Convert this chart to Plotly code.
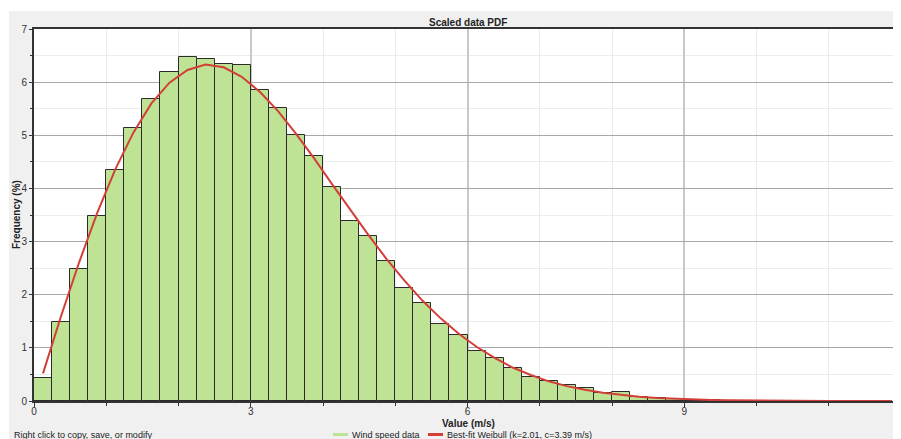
import plotly.graph_objects as go

# Histogram bins (m/s) – 0.25 m/s wide
bin_centers = [0.125 + 0.25 * i for i in range(38)]
freq_pct = [0.44, 1.48, 2.49, 3.48, 4.35, 5.14, 5.68, 6.20, 6.48, 6.44,
            6.34, 6.32, 5.86, 5.52, 5.01, 4.61, 4.02, 3.39, 3.11, 2.63,
            2.12, 1.84, 1.44, 1.24, 0.94, 0.81, 0.62, 0.45, 0.37, 0.30,
            0.25, 0.15, 0.17, 0.08, 0.05, 0.04, 0.02, 0.01]

# Best-fit Weibull curve
fit_x = [0.125, 0.375, 0.625, 0.875, 1.125, 1.375, 1.625, 1.875, 2.125, 2.375,
         2.625, 2.875, 3.125, 3.375, 3.625, 3.875, 4.125, 4.375, 4.625, 4.875,
         5.125, 5.375, 5.625, 5.875, 6.125, 6.375, 6.625, 6.875, 7.125, 7.375,
         7.625, 7.875, 8.125, 8.375, 8.625, 8.875, 9.125, 9.375, 9.625, 9.875,
         10.125, 10.5, 11.0, 11.5, 11.875]
fit_y = [0.52, 1.60, 2.61, 3.54, 4.36, 5.05, 5.60, 5.99, 6.23, 6.33,
         6.28, 6.10, 5.82, 5.46, 5.03, 4.57, 4.08, 3.60, 3.13, 2.68,
         2.27, 1.89, 1.56, 1.27, 1.02, 0.81, 0.63, 0.49, 0.37, 0.28,
         0.21, 0.155, 0.113, 0.081, 0.058, 0.041, 0.028, 0.019, 0.012, 0.008,
         0.005, 0.003, 0.001, 0.0, 0.0]

series_names = ["Wind speed data", "Best-fit Weibull (k=2.01, c=3.39 m/s)"]
x_ticks = [0, 3, 6, 9, 12]

GREEN = "#bee395"
RED = "#d23f38"
FONT = "Liberation Sans, Arial, sans-serif"

# the page body adds an 8px offset; everything below is in screen pixels
OFF = 8
W, H = 893, 431
PL, PT, PR, PB = 34, 29, 901, 401          # plot area in screen pixels
L, T = PL - OFF, PT - OFF
R = (OFF + W) - PR
B = (OFF + H) - PB
pw, ph = PR - PL, PB - PT


def px_x(p):
    return (p - PL) / pw


def px_y(p):
    return (PB - p) / ph


fig = go.Figure()
fig.add_trace(go.Bar(
    x=bin_centers, y=freq_pct, width=0.25,
    marker=dict(color=GREEN, line=dict(color="#2b2b2b", width=1)),
    showlegend=False, name=series_names[0],
))
fig.add_trace(go.Scatter(
    x=fit_x, y=fit_y, mode="lines",
    line=dict(color=RED, width=2), showlegend=False, name=series_names[1],
))

legend_y = px_y(434.5)
shapes = [
    # white strips around the grey frame
    dict(type="rect", xref="paper", yref="paper", layer="below",
         x0=px_x(0), x1=px_x(910), y0=px_y(11), y1=px_y(0),
         fillcolor="white", line=dict(width=0)),
    dict(type="rect", xref="paper", yref="paper", layer="below",
         x0=px_x(0), x1=px_x(9), y0=px_y(445), y1=px_y(0),
         fillcolor="white", line=dict(width=0)),
    # legend symbols
    dict(type="line", xref="paper", yref="paper", x0=px_x(333), x1=px_x(348),
         y0=legend_y, y1=legend_y, line=dict(color=GREEN, width=3)),
    dict(type="line", xref="paper", yref="paper", x0=px_x(428), x1=px_x(443),
         y0=legend_y, y1=legend_y, line=dict(color=RED, width=3)),
]

annotations = [
    dict(text="Right click to copy, save, or modify", xref="paper",
         yref="paper", x=px_x(12), y=legend_y, xanchor="left",
         yanchor="middle", showarrow=False, font=dict(size=9, color="#222")),
    dict(text=series_names[0], xref="paper", yref="paper", x=px_x(350),
         y=legend_y, xanchor="left", yanchor="middle", showarrow=False,
         font=dict(size=9, color="#222")),
    dict(text=series_names[1], xref="paper", yref="paper", x=px_x(445),
         y=legend_y, xanchor="left", yanchor="middle", showarrow=False,
         font=dict(size=9, color="#222")),
    dict(text="<b>Scaled data PDF</b>", xref="paper", yref="paper",
         x=px_x(468), y=px_y(22), xanchor="center", yanchor="middle",
         showarrow=False, font=dict(size=10, color="#222")),
    dict(text="<b>Value (m/s)</b>", xref="paper", yref="paper",
         x=px_x(468), y=px_y(423.5), xanchor="center", yanchor="middle",
         showarrow=False, font=dict(size=10, color="#222")),
    dict(text="<b>Frequency (%)</b>", xref="paper", yref="paper",
         x=px_x(16), y=px_y(215), xanchor="center", yanchor="middle",
         textangle=-90, showarrow=False, font=dict(size=10, color="#222")),
]

fig.update_layout(
    width=W, height=H,
    margin=dict(l=L, r=R, t=T, b=B, autoexpand=False),
    paper_bgcolor="#f0f0f0", plot_bgcolor="white",
    font=dict(family=FONT, size=10, color="#222"),
    bargap=0,
    showlegend=False,
    shapes=shapes,
    annotations=annotations,
)

fig.update_xaxes(
    range=[0, 12], tickvals=x_ticks, ticktext=[str(v) for v in x_ticks],
    showgrid=True, gridcolor="#c8c8c8", gridwidth=2,
    showline=True, linecolor="#333", linewidth=2, mirror=True,
    ticks="outside", ticklen=4, tickcolor="#333", tickwidth=1,
    ticklabelstandoff=-4,
    tickfont=dict(size=10, color="#333"),
    minor=dict(dtick=1, tick0=0, showgrid=True, gridcolor="#ececec",
               gridwidth=1, ticks="outside", ticklen=3, tickcolor="#333"),
    zeroline=False, automargin=False,
)
fig.update_yaxes(
    range=[0, 7], dtick=1, tick0=0,
    showgrid=True, gridcolor="#a8a8a8", gridwidth=1,
    showline=True, linecolor="#333", linewidth=2,
    ticks="outside", ticklen=3, tickcolor="#333", tickwidth=1,
    tickfont=dict(size=10, color="#333"),
    minor=dict(dtick=0.5, tick0=0, showgrid=True, gridcolor="#ececec",
               gridwidth=1, ticks="outside", ticklen=2, tickcolor="#333"),
    zeroline=False, automargin=False,
)

fig.write_html("out.html")
